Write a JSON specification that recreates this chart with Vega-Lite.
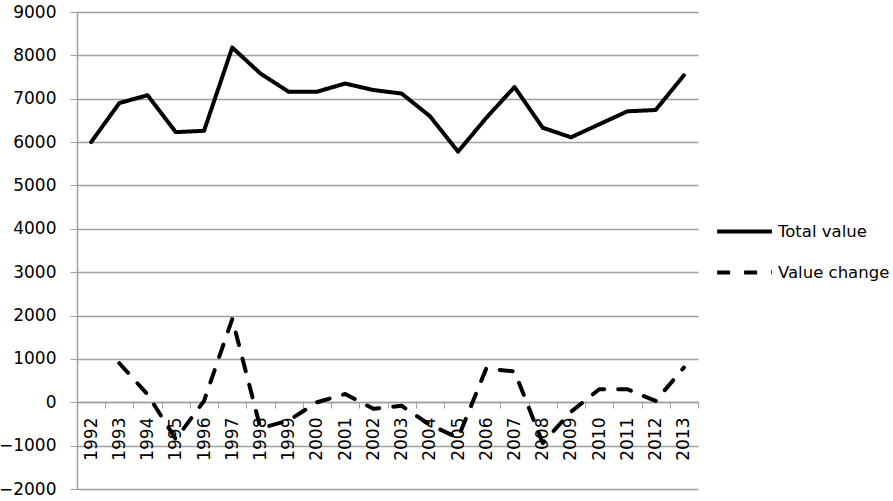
{
  "$schema": "https://vega.github.io/schema/vega-lite/v6.json",
  "autosize": "none",
  "width": 621,
  "height": 477,
  "padding": {"left": 77, "top": 12, "right": 195, "bottom": 12},
  "background": "white",
  "config": {
    "view": {"stroke": null},
    "font": "DejaVu Sans"
  },
  "data": {
    "values": [
      {"year": "1992", "series": "Total value", "value": 6000},
      {"year": "1993", "series": "Total value", "value": 6900},
      {"year": "1994", "series": "Total value", "value": 7080},
      {"year": "1995", "series": "Total value", "value": 6230},
      {"year": "1996", "series": "Total value", "value": 6260},
      {"year": "1997", "series": "Total value", "value": 8180},
      {"year": "1998", "series": "Total value", "value": 7580},
      {"year": "1999", "series": "Total value", "value": 7160},
      {"year": "2000", "series": "Total value", "value": 7160},
      {"year": "2001", "series": "Total value", "value": 7350},
      {"year": "2002", "series": "Total value", "value": 7200},
      {"year": "2003", "series": "Total value", "value": 7120},
      {"year": "2004", "series": "Total value", "value": 6600},
      {"year": "2005", "series": "Total value", "value": 5780},
      {"year": "2006", "series": "Total value", "value": 6560},
      {"year": "2007", "series": "Total value", "value": 7270},
      {"year": "2008", "series": "Total value", "value": 6330},
      {"year": "2009", "series": "Total value", "value": 6110},
      {"year": "2010", "series": "Total value", "value": 6410},
      {"year": "2011", "series": "Total value", "value": 6710},
      {"year": "2012", "series": "Total value", "value": 6740},
      {"year": "2013", "series": "Total value", "value": 7540},
      {"year": "1993", "series": "Value change", "value": 900},
      {"year": "1994", "series": "Value change", "value": 180},
      {"year": "1995", "series": "Value change", "value": -850},
      {"year": "1996", "series": "Value change", "value": 30},
      {"year": "1997", "series": "Value change", "value": 1920},
      {"year": "1998", "series": "Value change", "value": -600},
      {"year": "1999", "series": "Value change", "value": -420},
      {"year": "2000", "series": "Value change", "value": 0},
      {"year": "2001", "series": "Value change", "value": 190},
      {"year": "2002", "series": "Value change", "value": -150},
      {"year": "2003", "series": "Value change", "value": -80},
      {"year": "2004", "series": "Value change", "value": -520},
      {"year": "2005", "series": "Value change", "value": -820},
      {"year": "2006", "series": "Value change", "value": 780},
      {"year": "2007", "series": "Value change", "value": 710},
      {"year": "2008", "series": "Value change", "value": -940},
      {"year": "2009", "series": "Value change", "value": -220},
      {"year": "2010", "series": "Value change", "value": 300},
      {"year": "2011", "series": "Value change", "value": 300},
      {"year": "2012", "series": "Value change", "value": 30},
      {"year": "2013", "series": "Value change", "value": 800}
    ]
  },
  "mark": {"type": "line", "strokeWidth": 4, "strokeCap": "round", "strokeJoin": "round"},
  "encoding": {
    "x": {
      "field": "year",
      "type": "ordinal",
      "bandPosition": 0.5,
      "scale": {"type": "band", "paddingInner": 0, "paddingOuter": 0},
      "axis": {
        "title": null,
        "orient": "bottom",
        "offset": -87,
        "labelAngle": 270,
        "labelAlign": "right",
        "labelBaseline": "middle",
        "labelFontSize": 17,
        "labelColor": "black",
        "labelPadding": 9,
        "tickBand": "extent",
        "tickSize": 6,
        "tickColor": "#a0a0a0",
        "domainColor": "#a0a0a0",
        "domainWidth": 1.5,
        "grid": false
      }
    },
    "y": {
      "field": "value",
      "type": "quantitative",
      "scale": {"domain": [-2000, 9000], "nice": false, "zero": false},
      "axis": {
        "title": null,
        "format": "d",
        "values": [-2000, -1000, 0, 1000, 2000, 3000, 4000, 5000, 6000, 7000, 8000, 9000],
        "labelFontSize": 17,
        "labelColor": "black",
        "labelPadding": 14,
        "tickSize": 7,
        "tickColor": "#a0a0a0",
        "domainColor": "#a0a0a0",
        "domainWidth": 1.5,
        "grid": true,
        "gridColor": "#a0a0a0",
        "gridWidth": 1.5
      }
    },
    "color": {
      "field": "series",
      "type": "nominal",
      "scale": {"range": ["black", "black"]},
      "legend": {
        "title": null,
        "orient": "none",
        "legendX": 638,
        "legendY": 190,
        "symbolType": "stroke",
        "symbolSize": 3000,
        "symbolStrokeWidth": 4,
        "labelFontSize": 16.5,
        "labelColor": "black",
        "rowPadding": 3,
        "labelOffset": 4
      }
    },
    "strokeDash": {
      "field": "series",
      "type": "nominal",
      "scale": {"range": [[1, 0], [13, 14]]},
      "legend": {
        "title": null,
        "orient": "none",
        "legendX": 638,
        "legendY": 190,
        "symbolType": "stroke",
        "symbolSize": 3000,
        "symbolStrokeWidth": 4,
        "labelFontSize": 16.5,
        "labelColor": "black",
        "rowPadding": 3,
        "labelOffset": 4
      }
    }
  }
}
